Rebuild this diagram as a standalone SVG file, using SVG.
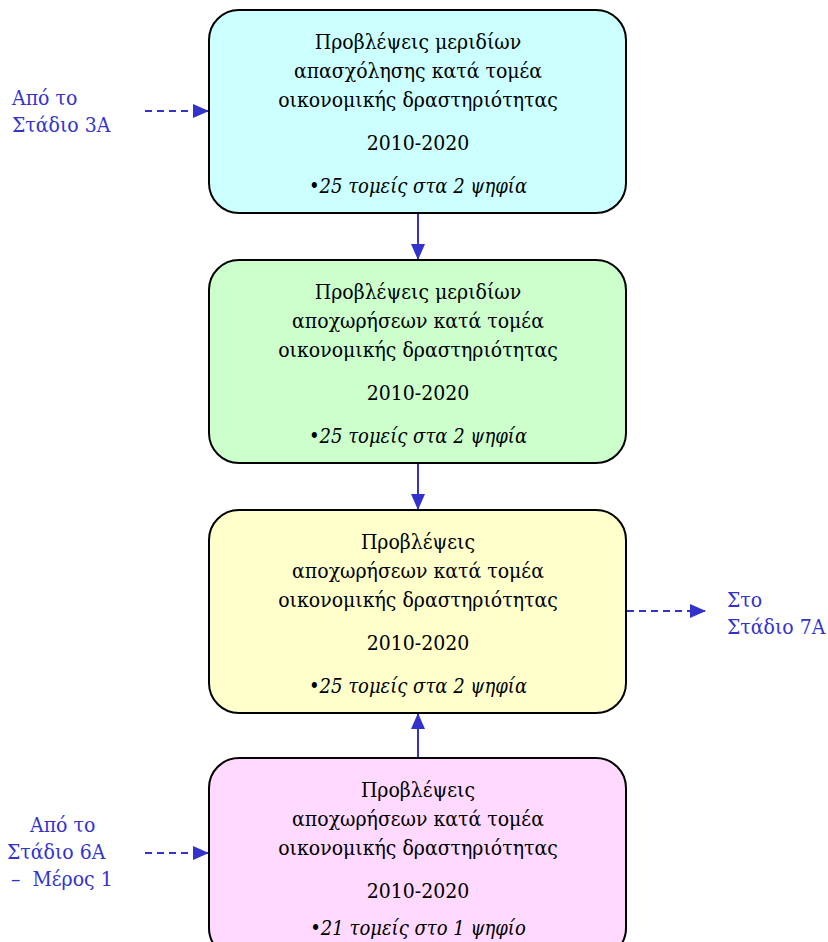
<svg xmlns="http://www.w3.org/2000/svg" width="828" height="942" viewBox="0 0 828 942">
<defs>
<marker id="ah" markerWidth="16" markerHeight="14" refX="15" refY="7" orient="auto" markerUnits="userSpaceOnUse">
<path d="M0,0 L16,7 L0,14 Z" fill="#3333CC"/>
</marker>
</defs>
<style>
.box{stroke:#000;stroke-width:2}
.t{font-family:"DejaVu Serif Condensed","DejaVu Serif",serif;font-size:21px;fill:#000;text-anchor:middle}
.i{font-style:italic;font-size:20px}
.lbl{font-family:"DejaVu Serif Condensed","DejaVu Serif",serif;font-size:21px;fill:#3333CC}
.c{stroke:#3333CC;stroke-width:2;fill:none}
.d{stroke-dasharray:7,5}
</style>
<rect width="828" height="942" fill="#fff"/>
<g id="connectors">
<line class="c" x1="418" y1="213" x2="418" y2="259" marker-end="url(#ah)"/>
<line class="c" x1="418" y1="463" x2="418" y2="509" marker-end="url(#ah)"/>
<line class="c" x1="418" y1="758" x2="418" y2="714" marker-end="url(#ah)"/>
<line class="c d" x1="145" y1="111" x2="208" y2="111" marker-end="url(#ah)"/>
<line class="c d" x1="627" y1="611" x2="705" y2="611" marker-end="url(#ah)"/>
<line class="c d" x1="145" y1="853" x2="208" y2="853" marker-end="url(#ah)"/>
</g>
<g id="node1">
<rect class="box" x="209" y="10" width="417" height="203" rx="30" fill="#CCFFFF"/>
<text class="t" x="418" y="49">Προβλέψεις μεριδίων</text>
<text class="t" x="418" y="78">απασχόλησης κατά τομέα</text>
<text class="t" x="418" y="107">οικονομικής δραστηριότητας</text>
<text class="t" x="418" y="150">2010-2020</text>
<text class="t i" x="418" y="193">•25 τομείς στα 2 ψηφία</text>
</g>
<g id="node2">
<rect class="box" x="209" y="260" width="417" height="203" rx="30" fill="#CCFFCC"/>
<text class="t" x="418" y="299">Προβλέψεις μεριδίων</text>
<text class="t" x="418" y="328">αποχωρήσεων κατά τομέα</text>
<text class="t" x="418" y="357">οικονομικής δραστηριότητας</text>
<text class="t" x="418" y="400">2010-2020</text>
<text class="t i" x="418" y="443">•25 τομείς στα 2 ψηφία</text>
</g>
<g id="node3">
<rect class="box" x="209" y="510" width="417" height="203" rx="30" fill="#FFFFCC"/>
<text class="t" x="418" y="549">Προβλέψεις</text>
<text class="t" x="418" y="578">αποχωρήσεων κατά τομέα</text>
<text class="t" x="418" y="607">οικονομικής δραστηριότητας</text>
<text class="t" x="418" y="650">2010-2020</text>
<text class="t i" x="418" y="693">•25 τομείς στα 2 ψηφία</text>
</g>
<g id="node4">
<rect class="box" x="209" y="758" width="417" height="200" rx="30" fill="#FFD9FF"/>
<text class="t" x="418" y="797">Προβλέψεις</text>
<text class="t" x="418" y="826">αποχωρήσεων κατά τομέα</text>
<text class="t" x="418" y="855">οικονομικής δραστηριότητας</text>
<text class="t" x="418" y="898">2010-2020</text>
<text class="t i" x="418" y="935">•21 τομείς στο 1 ψηφίο</text>
</g>
<g id="label-in1">
<text class="lbl" x="12" y="105">Από το</text>
<text class="lbl" x="12" y="132">Στάδιο 3Α</text>
</g>
<g id="label-out">
<text class="lbl" x="727" y="607">Στο</text>
<text class="lbl" x="727" y="634">Στάδιο 7Α</text>
</g>
<g id="label-in2">
<text class="lbl" x="30" y="832">Από το</text>
<text class="lbl" x="7" y="859">Στάδιο 6Α</text>
<text class="lbl" x="11" y="886" xml:space="preserve">–  Μέρος 1</text>
</g>
</svg>
